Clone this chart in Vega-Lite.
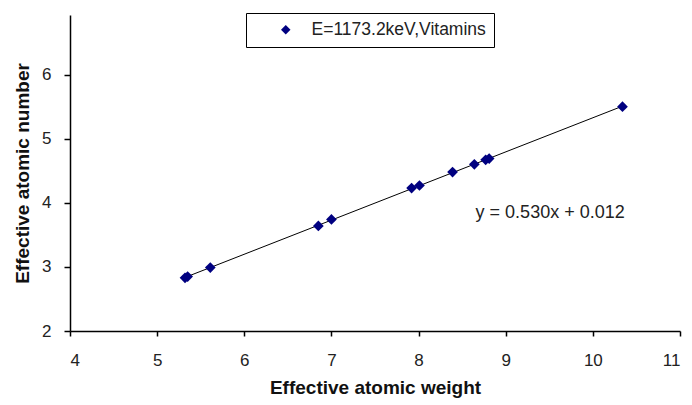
{
  "$schema": "https://vega.github.io/schema/vega-lite/v6.json",
  "width": 610,
  "height": 316,
  "autosize": "none",
  "padding": {"left": 70, "top": 15, "right": 12, "bottom": 74},
  "background": "white",
  "config": {
    "view": {"stroke": null},
    "font": "Liberation Sans",
    "axis": {"grid": false, "domainColor": "#000", "tickColor": "#000", "domainWidth": 1.5, "tickWidth": 1.5, "labelFont": "Liberation Sans", "labelFontSize": 17, "labelColor": "#222", "titleFont": "Liberation Sans", "titleFontSize": 19, "titleFontWeight": "bold", "titleColor": "#111", "format": "d"}
  },
  "data": {
    "values": [
      {"x": 5.32, "y": 2.83, "s": "E=1173.2keV,Vitamins"},
      {"x": 5.35, "y": 2.85, "s": "E=1173.2keV,Vitamins"},
      {"x": 5.61, "y": 2.99, "s": "E=1173.2keV,Vitamins"},
      {"x": 6.85, "y": 3.64, "s": "E=1173.2keV,Vitamins"},
      {"x": 7.0, "y": 3.74, "s": "E=1173.2keV,Vitamins"},
      {"x": 7.92, "y": 4.23, "s": "E=1173.2keV,Vitamins"},
      {"x": 8.01, "y": 4.27, "s": "E=1173.2keV,Vitamins"},
      {"x": 8.39, "y": 4.48, "s": "E=1173.2keV,Vitamins"},
      {"x": 8.64, "y": 4.60, "s": "E=1173.2keV,Vitamins"},
      {"x": 8.77, "y": 4.67, "s": "E=1173.2keV,Vitamins"},
      {"x": 8.81, "y": 4.69, "s": "E=1173.2keV,Vitamins"},
      {"x": 10.34, "y": 5.50, "s": "E=1173.2keV,Vitamins"}
    ]
  },
  "layer": [
    {
      "transform": [{"regression": "y", "on": "x"}],
      "mark": {"type": "line", "color": "#000", "strokeWidth": 1},
      "encoding": {
        "x": {"field": "x", "type": "quantitative"},
        "y": {"field": "y", "type": "quantitative"}
      }
    },
    {
      "mark": {"type": "point", "shape": "diamond", "filled": true, "size": 115, "opacity": 1},
      "encoding": {
        "x": {"field": "x", "type": "quantitative", "scale": {"domain": [4, 11], "nice": false, "zero": false},
          "axis": {"title": "Effective atomic weight", "values": [4,5,6,7,8,9,10,11], "tickSize": 5, "labelPadding": 16, "titlePadding": 10}},
        "y": {"field": "y", "type": "quantitative", "scale": {"domain": [2, 6.93], "nice": false, "zero": false},
          "axis": {"title": "Effective atomic number", "values": [2,3,4,5,6], "tickSize": 6, "labelPadding": 13, "titlePadding": 9}},
        "color": {"field": "s", "type": "nominal", "scale": {"range": ["#000080"]},
          "legend": {"title": null, "orient": "none", "legendX": 176, "legendY": -2, "strokeColor": "#000", "padding": 8, "symbolType": "diamond", "symbolSize": 90, "labelFontSize": 17.5, "labelFont": "Liberation Sans", "labelColor": "#222", "labelLimit": 400, "symbolOffset": 23, "labelOffset": 17, "fillColor": "white"}}
      }
    },
    {
      "data": {"values": [{"x": 9.51, "y": 3.84, "t": "y = 0.530x + 0.012"}]},
      "mark": {"type": "text", "fontSize": 18, "font": "Liberation Sans", "color": "#222"},
      "encoding": {
        "x": {"field": "x", "type": "quantitative"},
        "y": {"field": "y", "type": "quantitative"},
        "text": {"field": "t"}
      }
    }
  ]
}
